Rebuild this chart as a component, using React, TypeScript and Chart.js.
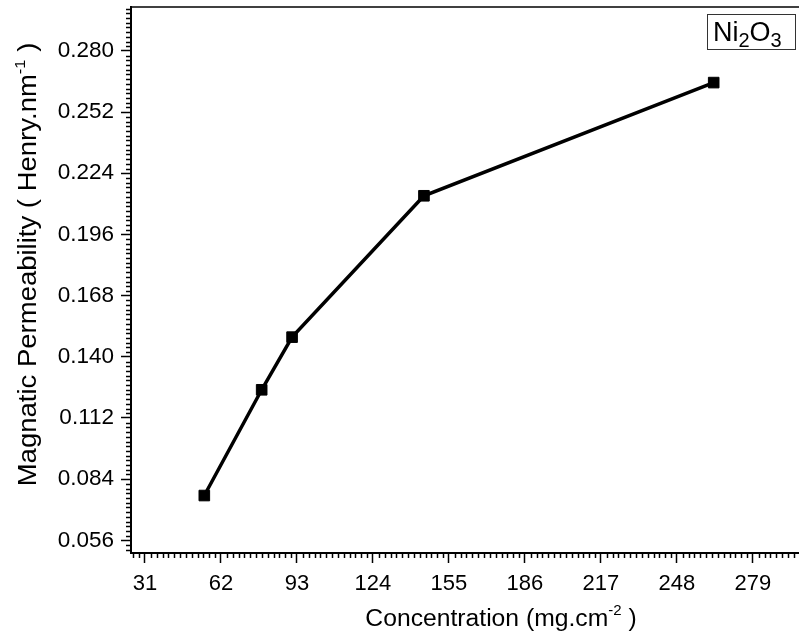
import React, { useEffect, useRef } from "react";
import { Chart, registerables } from "chart.js";
Chart.register(...registerables);

const concentration = [55.2, 78.6, 91.0, 144.8, 263.0];
const permeability = [0.0765, 0.1249, 0.149, 0.2137, 0.2655];
const xTickValues = [31, 62, 93, 124, 155, 186, 217, 248, 279];
const yTickValues = [0.056, 0.084, 0.112, 0.14, 0.168, 0.196, 0.224, 0.252, 0.28];
const legendLabel = ["Ni", "2", "O", "3"];
const xTitleParts = ["Concentration (mg.cm", "-2", " )"];
const yTitleParts = ["Magnatic Permeability ( Henry.nm", "-1", " )"];

const FONT = "'Liberation Sans', Arial, sans-serif";

type Part = { text: string; size: number; dy: number };

function drawParts(ctx: CanvasRenderingContext2D, parts: Part[], cx: number, cy: number) {
  let total = 0;
  for (const p of parts) {
    ctx.font = `${p.size}px ${FONT}`;
    total += ctx.measureText(p.text).width;
  }
  let x = cx - total / 2;
  ctx.textAlign = "left";
  ctx.textBaseline = "alphabetic";
  for (const p of parts) {
    ctx.font = `${p.size}px ${FONT}`;
    ctx.fillText(p.text, x, cy + p.dy);
    x += ctx.measureText(p.text).width;
  }
}

export default function App() {
  const ref = useRef<HTMLCanvasElement>(null);
  useEffect(() => {
    if (!ref.current) return;
    const decor = {
      id: "decor",
      afterDraw(chart: any) {
        const ctx: CanvasRenderingContext2D = chart.ctx;
        const { left, right, top, bottom } = chart.chartArea;
        const xs = chart.scales.x;
        const ys = chart.scales.y;
        ctx.save();
        ctx.strokeStyle = "#000";
        ctx.fillStyle = "#000";
        // top frame line
        ctx.lineWidth = 1.5;
        ctx.beginPath();
        ctx.moveTo(left, top);
        ctx.lineTo(right, top);
        ctx.stroke();
        // minor ticks
        ctx.lineWidth = 1.5;
        const xStep = (xTickValues[1] - xTickValues[0]) / 13;
        const x0 = xTickValues[0];
        for (let k = -20; k < 200; k++) {
          if (k % 13 === 0) continue;
          const v = x0 + k * xStep;
          if (v < xs.min || v > xs.max) continue;
          const px = Math.round(xs.getPixelForValue(v)) + 0.5;
          ctx.beginPath();
          ctx.moveTo(px, bottom);
          ctx.lineTo(px, bottom + 5);
          ctx.stroke();
        }
        const yStep = (yTickValues[1] - yTickValues[0]) / 13;
        const y0 = yTickValues[0];
        for (let k = -20; k < 200; k++) {
          if (k % 13 === 0) continue;
          const v = y0 + k * yStep;
          if (v < ys.min || v > ys.max) continue;
          const py = Math.round(ys.getPixelForValue(v)) + 0.5;
          ctx.beginPath();
          ctx.moveTo(left - 5, py);
          ctx.lineTo(left, py);
          ctx.stroke();
        }
        // x title
        drawParts(
          ctx,
          [
            { text: xTitleParts[0], size: 24.7, dy: 0 },
            { text: xTitleParts[1], size: 15, dy: -11 },
            { text: xTitleParts[2], size: 24.7, dy: 0 },
          ],
          left + 370,
          626
        );
        // y title
        ctx.save();
        ctx.translate(36, 264.5);
        ctx.rotate(-Math.PI / 2);
        ctx.scale(1.1, 1);
        drawParts(
          ctx,
          [
            { text: yTitleParts[0], size: 25, dy: 0 },
            { text: yTitleParts[1], size: 15, dy: -11 },
            { text: yTitleParts[2], size: 25, dy: 0 },
          ],
          0,
          0
        );
        ctx.restore();
        // legend box
        const bx = right - 92;
        const by = top + 7;
        ctx.strokeStyle = "#333";
        ctx.lineWidth = 1;
        ctx.strokeRect(bx + 0.5, by + 0.5, 88, 35);
        ctx.fillStyle = "#000";
        ctx.textAlign = "left";
        ctx.textBaseline = "alphabetic";
        let tx = bx + 6;
        const base = by + 27;
        const segs: Part[] = [
          { text: legendLabel[0], size: 27, dy: 0 },
          { text: legendLabel[1], size: 20, dy: 6 },
          { text: legendLabel[2], size: 27, dy: 0 },
          { text: legendLabel[3], size: 20, dy: 6 },
        ];
        for (const s of segs) {
          ctx.font = `${s.size}px ${FONT}`;
          ctx.fillText(s.text, tx, base + s.dy);
          tx += ctx.measureText(s.text).width;
        }
        ctx.restore();
      },
    };

    const chart = new Chart(ref.current, {
      type: "line",
      data: {
        datasets: [
          {
            data: concentration.map((x, i) => ({ x, y: permeability[i] })),
            borderColor: "#000",
            backgroundColor: "#000",
            borderWidth: 3.5,
            pointStyle: "rect",
            pointRadius: 7.5,
            pointBorderWidth: 1,
            pointBackgroundColor: "#000",
            pointBorderColor: "#000",
            tension: 0,
            clip: false,
          },
        ],
      },
      options: {
        animation: false,
        responsive: false,
        maintainAspectRatio: false,
        layout: { autoPadding: false, padding: { top: 7, left: 0, right: 0, bottom: 0 } },
        plugins: { legend: { display: false }, tooltip: { enabled: false } },
        scales: {
          x: {
            type: "linear",
            min: 25.29,
            max: 297.8,
            afterBuildTicks: (s: any) => {
              s.ticks = xTickValues.map((v) => ({ value: v }));
            },
            afterFit: (s: any) => {
              s.height = 89;
              s.paddingLeft = 0;
              s.paddingRight = 0;
            },
            grid: {
              display: true,
              drawOnChartArea: false,
              drawTicks: true,
              tickLength: 10,
              tickWidth: 1.5,
              tickColor: "#000",
            },
            border: { display: true, color: "#000", width: 2 },
            ticks: {
              color: "#000",
              padding: 8,
              autoSkip: false,
              maxRotation: 0,
              font: { family: FONT, size: 22 },
              callback: (v: any) => String(v),
            },
          },
          y: {
            type: "linear",
            min: 0.0502,
            max: 0.3001,
            afterBuildTicks: (s: any) => {
              s.ticks = yTickValues.map((v) => ({ value: v }));
            },
            afterFit: (s: any) => {
              s.width = 131;
              s.paddingTop = 0;
              s.paddingBottom = 0;
            },
            grid: {
              display: true,
              drawOnChartArea: false,
              drawTicks: true,
              tickLength: 10,
              tickWidth: 1.5,
              tickColor: "#000",
            },
            border: { display: true, color: "#000", width: 2 },
            ticks: {
              color: "#000",
              padding: 7,
              autoSkip: false,
              font: { family: FONT, size: 22.5 },
              callback: (v: any) => Number(v).toFixed(3),
            },
          },
        },
      },
      plugins: [decor],
    });
    return () => chart.destroy();
  }, []);
  return (
    <div style={{ position: "absolute", left: 0, top: 0, width: 799, height: 642, background: "#fff" }}>
      <canvas ref={ref} width={799} height={642} style={{ display: "block", width: 799, height: 642 }} />
    </div>
  );
}
